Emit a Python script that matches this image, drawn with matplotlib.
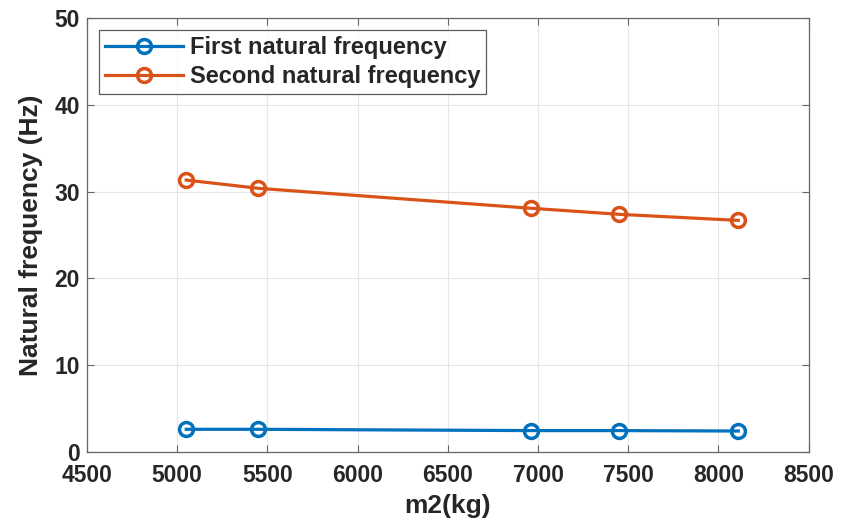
import matplotlib.pyplot as plt

# m2 mass (kg) and natural frequencies (Hz)
m2 = [5050, 5450, 6960, 7450, 8110]
first_freq = [2.6, 2.6, 2.45, 2.45, 2.4]
second_freq = [31.35, 30.4, 28.1, 27.4, 26.7]

x_ticks = [4500, 5000, 5500, 6000, 6500, 7000, 7500, 8000, 8500]
y_ticks = [0, 10, 20, 30, 40, 50]

plt.rcParams["font.family"] = ["Liberation Sans", "DejaVu Sans"]
plt.rcParams["font.weight"] = "bold"

fig = plt.figure(figsize=(8.53, 5.26), dpi=100)
ax = fig.add_axes([0.102, 0.141, 0.846, 0.824])

ax.plot(m2, first_freq, color="#0072BD", linewidth=2.3, marker="o",
        markersize=10, markerfacecolor="none", markeredgewidth=2.5,
        label="First natural frequency")
ax.plot(m2, second_freq, color="#D95319", linewidth=2.3, marker="o",
        markersize=10, markerfacecolor="none", markeredgewidth=2.5,
        label="Second natural frequency")

ax.set_xlim(4500, 8500)
ax.set_ylim(0, 50)
ax.set_xticks(x_ticks)
ax.set_yticks(y_ticks)
ax.grid(True, color="#e6e6e6", linewidth=0.8)
ax.set_axisbelow(True)
ax.tick_params(direction="in", top=True, right=True, labelsize=16.5, length=5,
               color="#666666", labelcolor="#262626")
ax.tick_params(axis="x", pad=9)
ax.tick_params(axis="y", pad=5)
for spine in ax.spines.values():
    spine.set_color("#666666")
    spine.set_linewidth(0.9)

ax.set_xlabel("m2(kg)", fontsize=19, fontweight="bold", color="#262626",
              labelpad=5)
ax.set_ylabel("Natural frequency (Hz)", fontsize=19, fontweight="bold",
              color="#262626", labelpad=8)

leg = ax.legend(loc="upper left", fontsize=17, frameon=True, fancybox=False,
                edgecolor="#333333", handlelength=3.3, handletextpad=0.3,
                borderpad=0.25, labelspacing=0.25, borderaxespad=0.5)
leg.get_frame().set_linewidth(0.9)
for text in leg.get_texts():
    text.set_color("#262626")

fig.savefig("out.png", dpi=100)
